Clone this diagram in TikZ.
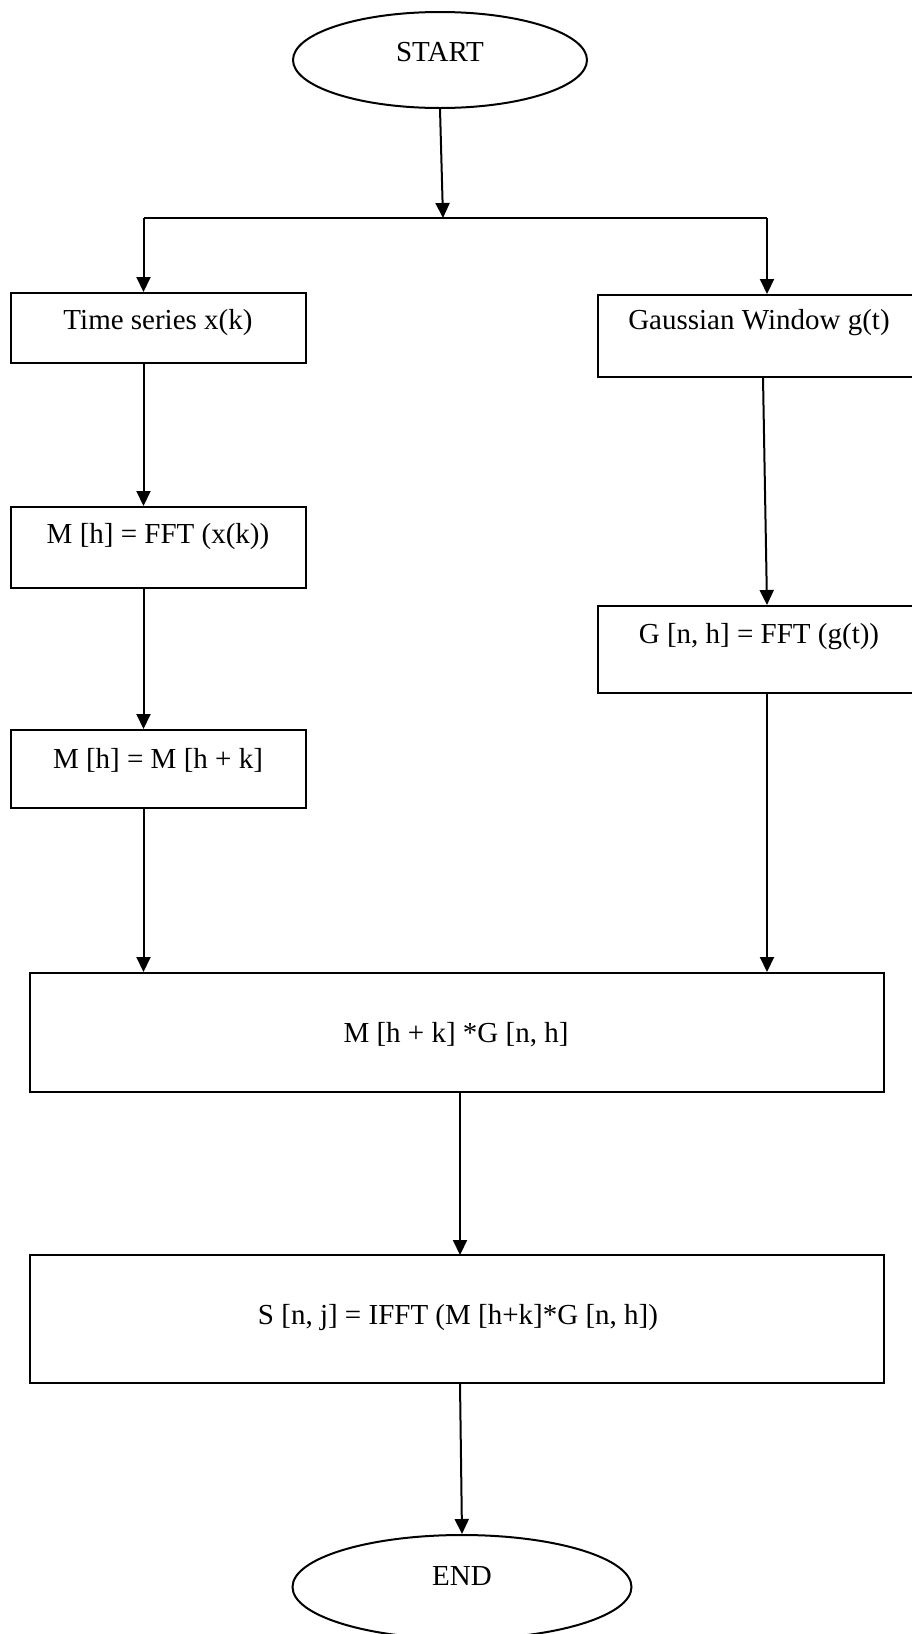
\documentclass[tikz,border=0pt]{standalone}
\usepackage{fontspec}
\setmainfont{Liberation Serif}
\usetikzlibrary{shapes.geometric,arrows.meta}

\tikzset{
  box/.style={draw,line width=1pt,rectangle,inner sep=0pt},
  term/.style={draw,line width=1pt,ellipse,inner sep=0pt},
  txt/.style={inner sep=0pt,font=\fontsize{14.5}{17}\selectfont},
  line/.style={line width=1pt},
  flow/.style={line width=1pt,-{Triangle[length=7.5pt,width=7pt]}}
}

\begin{document}
\begin{tikzpicture}[x=0.5pt,y=-0.5pt]
\useasboundingbox (0,0) rectangle (911,1634);
% terminals
\node[term,minimum width=147pt,minimum height=48pt] (start) at (440,60) {};
\node[txt] (starttxt) at (440,52) {START};
\node[term,minimum width=169.5pt,minimum height=52pt] (end) at (462,1587) {};
\node[txt] (endtxt) at (462,1576) {END};
% left column
\node[box,minimum width=147.5pt,minimum height=35pt] (timeser) at (158,328) {};
\node[txt] (timesertxt) at (158,323) {Time series x(k)};
\node[box,minimum width=147.5pt,minimum height=40.5pt] (mfft) at (158,547.5) {};
\node[txt] (mffttxt) at (158,537) {M [h] = FFT (x(k))};
\node[box,minimum width=147.5pt,minimum height=39pt] (mshift) at (158,769) {};
\node[txt] (mshifttxt) at (158,760) {M [h] = M [h + k]};
% right column
\node[box,minimum width=163.5pt,minimum height=41pt] (gauss) at (761.5,336) {};
\node[txt] (gausstxt) at (759,323) {Gaussian Window g(t)};
\node[box,minimum width=163.5pt,minimum height=43.5pt] (gfft) at (761.5,649.5) {};
\node[txt] (gffttxt) at (759,637) {G [n, h] = FFT (g(t))};
% bottom
\node[box,minimum width=427pt,minimum height=59.5pt] (prod) at (457,1032.5) {};
\node[txt] (prodtxt) at (456,1035) {M [h + k] *G [n, h]};
\node[box,minimum width=427pt,minimum height=64pt] (ifft) at (457,1319) {};
\node[txt] (iffttxt) at (458,1318) {S [n, j] = IFFT (M [h+k]*G [n, h])};

\coordinate (split) at (443,218);
\coordinate (lsplit) at (143.5,218);
\coordinate (rsplit) at (767,218);
\coordinate (gout) at (763,377);

% connectors
\draw[flow] (start.south) -- (split);
\draw[line] (lsplit) -- (rsplit);
\draw[flow] (lsplit) -- (lsplit |- timeser.north);
\draw[flow] (rsplit) -- (rsplit |- gauss.north);
\draw[flow] (lsplit |- timeser.south) -- (lsplit |- mfft.north);
\draw[flow] (lsplit |- mfft.south) -- (lsplit |- mshift.north);
\draw[flow] (lsplit |- mshift.south) -- (lsplit |- prod.north);
\draw[flow] (gout) -- (rsplit |- gfft.north);
\draw[flow] (rsplit |- gfft.south) -- (rsplit |- prod.north);
\draw[flow] (460,1092) -- (460,1255);
\draw[flow] (460,1383) -- (end.north);
\end{tikzpicture}
\end{document}
